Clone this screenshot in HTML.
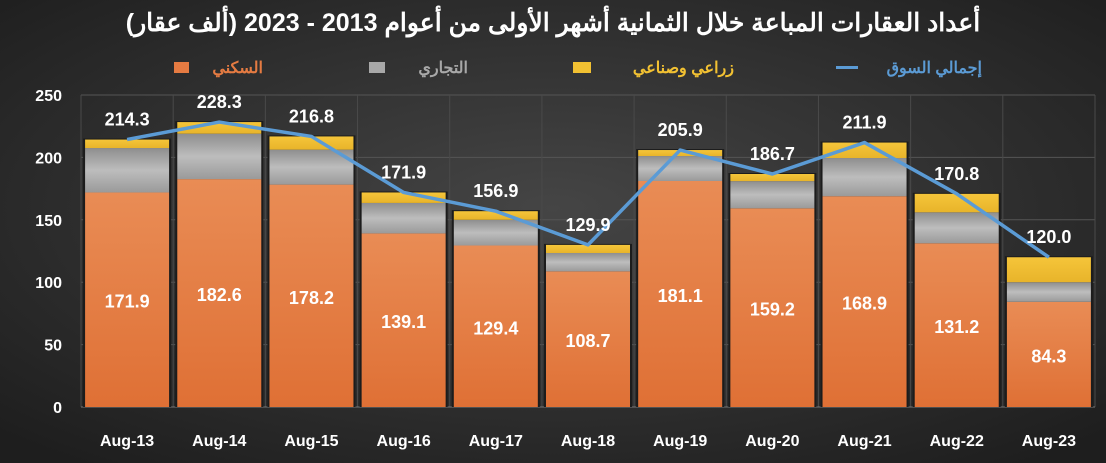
<!DOCTYPE html>
<html><head><meta charset="utf-8">
<style>
html,body{margin:0;padding:0;width:1106px;height:463px;overflow:hidden;background:#2a2a2a;}
svg{display:block;position:absolute;left:0;top:0;}
text{font-family:"Liberation Sans","Noto Sans CJK SC",sans-serif;}
.t{position:absolute;font-family:"Liberation Sans","Noto Sans CJK SC",sans-serif;font-weight:bold;color:#fff;direction:rtl;white-space:nowrap;line-height:1;}
</style></head>
<body>
<svg id="chart" width="1106" height="463" xmlns="http://www.w3.org/2000/svg">
<defs>
<radialGradient id="bg" cx="50%" cy="45%" r="70%">
<stop offset="0" stop-color="#454545"/><stop offset="1" stop-color="#1e1e1e"/>
</radialGradient>
<linearGradient id="gOr" x1="0" y1="0" x2="0" y2="1"><stop offset="0" stop-color="#e98c55"/><stop offset="1" stop-color="#df7035"/></linearGradient>
<linearGradient id="gGr" x1="0" y1="0" x2="0" y2="1"><stop offset="0" stop-color="#8e8e8e"/><stop offset="0.5" stop-color="#bdbdbd"/><stop offset="1" stop-color="#9a9a9a"/></linearGradient>
<linearGradient id="gYe" x1="0" y1="0" x2="0" y2="1"><stop offset="0" stop-color="#f5c53a"/><stop offset="1" stop-color="#e8b42a"/></linearGradient>
</defs>
<rect width="1106" height="463" fill="url(#bg)"/>
<g font-size="16" font-weight="bold">
<g><rect x="174" y="62" width="15" height="11" fill="#e57b42"/><text x="263" y="73" text-anchor="end" fill="#e57b42">السكني</text></g>
<g><rect x="369" y="62" width="16" height="11" fill="#a8a8a8"/><text x="468" y="73" text-anchor="end" fill="#a8a8a8">التجاري</text></g>
<g><rect x="573" y="62" width="18" height="11" fill="#f2c132"/><text x="734" y="73" text-anchor="end" fill="#f2c132">زراعي وصناعي</text></g>
<g><rect x="836" y="66" width="22" height="3" fill="#5b9bd5"/><text x="982" y="73" text-anchor="end" fill="#5b9bd5">إجمالي السوق</text></g>
</g>
<g id="grid"></g><g id="bars"></g><g id="line"></g><g id="labels"></g>
</svg>
<div class="t" style="left:0;width:1106px;text-align:center;top:11px;font-size:25px;">أعداد العقارات المباعة خلال الثمانية أشهر الأولى من أعوام 2013 - 2023 (ألف عقار)</div>
<script>
const categories=["Aug-13","Aug-14","Aug-15","Aug-16","Aug-17","Aug-18","Aug-19","Aug-20","Aug-21","Aug-22","Aug-23"];
const residential=[171.9,182.6,178.2,139.1,129.4,108.7,181.1,159.2,168.9,131.2,84.3];
const commercial=[35.6,36.4,28.0,24.4,20.6,14.7,20.0,21.8,30.6,24.8,15.7];
const agri=[6.8,9.3,10.6,8.4,6.9,6.5,4.8,5.7,12.4,14.8,20.0];
const totals=[214.3,228.3,216.8,171.9,156.9,129.9,205.9,186.7,211.9,170.8,120.0];
const yTicks=[0,50,100,150,200,250];
const NS="http://www.w3.org/2000/svg";
const L=81,R=1095,T=95,B=407,yMax=250;
const band=(R-L)/categories.length;
const y=v=>B-(v/yMax)*(B-T);
const xc=i=>L+band*(i+0.5);
function mk(tag,attrs,parent){const e=document.createElementNS(NS,tag);for(const k in attrs)e.setAttribute(k,attrs[k]);parent.appendChild(e);return e;}
const grid=document.getElementById('grid');
yTicks.forEach(t=>{
 if(t>0){const g=mk('line',{x1:L,x2:R,y1:y(t),y2:y(t),stroke:'#555','stroke-width':1},grid);
 
 }
 const tx=mk('text',{x:62,y:y(t)+6,'text-anchor':'end','font-size':16,'font-weight':'bold',fill:'#fff'},grid);
 tx.textContent=t;
 
 
});
for(let i=0;i<=categories.length;i++){const v=mk('line',{x1:L+band*i,x2:L+band*i,y1:T,y2:B,stroke:'#4a4a4a','stroke-width':1},grid);

}
const ax=mk('line',{x1:L,x2:R,y1:B,y2:B,stroke:'#777','stroke-width':1},grid);


const bars=document.getElementById('bars'),labels=document.getElementById('labels');
const bw=84;
categories.forEach((c,i)=>{
 const x=xc(i)-bw/2;
 const g=mk('g',{},bars);
 
 
 const r0=residential[i],c0=commercial[i],a0=agri[i];
 mk('rect',{x:x-2,y:y(r0+c0+a0)-1,width:bw+4,height:B-y(r0+c0+a0)+1,fill:'#1c1c1c'},g);
 const s1=mk('rect',{x:x,y:y(r0),width:bw,height:B-y(r0),fill:'url(#gOr)'},g);
 
 
 const s2=mk('rect',{x:x,y:y(r0+c0),width:bw,height:y(r0)-y(r0+c0),fill:'url(#gGr)'},g);
 
 
 const s3=mk('rect',{x:x,y:y(r0+c0+a0),width:bw,height:y(r0+c0)-y(r0+c0+a0),fill:'url(#gYe)'},g);
 
 
 const rl=mk('text',{x:xc(i),y:(y(r0)+B)/2+8,'text-anchor':'middle','font-size':18,'font-weight':'bold',fill:'#fff'},labels);
 rl.textContent=r0.toFixed(1);
 
 
 const tl=mk('text',{x:xc(i),y:y(totals[i])-14,'text-anchor':'middle','font-size':18,'font-weight':'bold',fill:'#fff'},labels);
 tl.textContent=totals[i].toFixed(1);
 
 
 const xl=mk('text',{x:xc(i),y:446,'text-anchor':'middle','font-size':16,'font-weight':'bold',fill:'#fff'},labels);
 xl.textContent=c;
 
 
});
const pl=mk('polyline',{points:totals.map((v,i)=>xc(i)+','+y(v)).join(' '),fill:'none',stroke:'#5b9bd5','stroke-width':3.5,'stroke-linejoin':'round'},document.getElementById('line'));


</script>
</body></html>
